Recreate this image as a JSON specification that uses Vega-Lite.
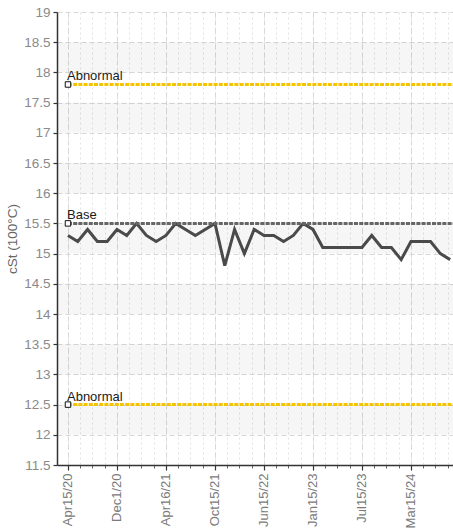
{
  "$schema": "https://vega.github.io/schema/vega-lite/v6.json",
  "width": 396,
  "height": 453,
  "autosize": "none",
  "padding": {"left": 57, "top": 12, "right": 0, "bottom": 63},
  "background": "white",
  "config": {"view": {"stroke": null}, "font": "Liberation Sans"},
  "datasets": {
    "bands": [
      {"lo": 12, "hi": 12.5}, {"lo": 13, "hi": 13.5}, {"lo": 14, "hi": 14.5},
      {"lo": 15, "hi": 15.5}, {"lo": 16, "hi": 16.5}, {"lo": 17, "hi": 17.5},
      {"lo": 18, "hi": 18.5}
    ],
    "series": [
      {"i": 0, "v": 15.3}, {"i": 1, "v": 15.2}, {"i": 2, "v": 15.4}, {"i": 3, "v": 15.2},
      {"i": 4, "v": 15.2}, {"i": 5, "v": 15.4}, {"i": 6, "v": 15.3}, {"i": 7, "v": 15.5},
      {"i": 8, "v": 15.3}, {"i": 9, "v": 15.2}, {"i": 10, "v": 15.3}, {"i": 11, "v": 15.5},
      {"i": 12, "v": 15.4}, {"i": 13, "v": 15.3}, {"i": 14, "v": 15.4}, {"i": 15, "v": 15.5},
      {"i": 16, "v": 14.8}, {"i": 17, "v": 15.4}, {"i": 18, "v": 15.0}, {"i": 19, "v": 15.4},
      {"i": 20, "v": 15.3}, {"i": 21, "v": 15.3}, {"i": 22, "v": 15.2}, {"i": 23, "v": 15.3},
      {"i": 24, "v": 15.5}, {"i": 25, "v": 15.4}, {"i": 26, "v": 15.1}, {"i": 27, "v": 15.1},
      {"i": 28, "v": 15.1}, {"i": 29, "v": 15.1}, {"i": 30, "v": 15.1}, {"i": 31, "v": 15.3},
      {"i": 32, "v": 15.1}, {"i": 33, "v": 15.1}, {"i": 34, "v": 14.9}, {"i": 35, "v": 15.2},
      {"i": 36, "v": 15.2}, {"i": 37, "v": 15.2}, {"i": 38, "v": 15.0}, {"i": 39, "v": 14.9}
    ],
    "refs": [
      {"name": "Abnormal", "value": 17.8, "kind": "limit"},
      {"name": "Base", "value": 15.5, "kind": "base"},
      {"name": "Abnormal", "value": 12.5, "kind": "limit"}
    ]
  },
  "layer": [
    {
      "data": {"name": "bands"},
      "mark": {"type": "rect", "color": "#000000", "opacity": 0.035},
      "encoding": {
        "x": {
          "datum": -1.12, "type": "quantitative",
          "scale": {"domain": [-1.12, 39.29], "nice": false, "zero": false},
          "axis": {
            "orient": "bottom",
            "values": [0,1.25,2.5,3.75,5,6.25,7.5,8.75,10,11.25,12.5,13.75,15,16.25,17.5,18.75,20,21.25,22.5,23.75,25,26.25,27.5,28.75,30,31.25,32.5,33.75,35,36.25,37.5,38.75],
            "labels": false, "domain": false, "title": null,
            "grid": true, "gridColor": "#e2e2e2", "gridDash": [2, 3], "gridWidth": 1,
            "ticks": true, "tickSize": 3, "tickColor": "#666666", "tickWidth": 1
          }
        },
        "x2": {"datum": 39.29},
        "y": {
          "field": "lo", "type": "quantitative",
          "scale": {"domain": [11.5, 19], "nice": false, "zero": false},
          "axis": {
            "orient": "left",
            "values": [11.5,12,12.5,13,13.5,14,14.5,15,15.5,16,16.5,17,17.5,18,18.5,19],
            "format": "~g",
            "title": "cSt (100°C)",
            "titleFont": "Liberation Sans", "titleFontSize": 13.5, "titleFontWeight": "normal",
            "titleColor": "#666666", "titlePadding": 4,
            "labelFont": "Liberation Sans", "labelFontSize": 13.5, "labelColor": "#8a8a8a",
            "labelPadding": 3,
            "domain": true, "domainColor": "#333333", "domainWidth": 1.5,
            "ticks": true, "tickSize": 4, "tickColor": "#333333", "tickWidth": 1.2,
            "grid": true, "gridColor": "#d8d8d8", "gridDash": [5, 3], "gridWidth": 1
          }
        },
        "y2": {"field": "hi"}
      }
    },
    {
      "data": {"name": "series"},
      "mark": {"type": "line", "color": "#4a4a4a", "strokeWidth": 3, "strokeJoin": "miter"},
      "encoding": {
        "x": {
          "field": "i", "type": "quantitative",
          "axis": {
            "orient": "bottom",
            "values": [0, 5, 10, 15, 20, 25, 30, 35],
            "labelExpr": "['Apr15/20','Dec1/20','Apr16/21','Oct15/21','Jun15/22','Jan15/23','Jul15/23','Mar15/24'][round(datum.value/5)]",
            "labelAngle": -90, "labelFont": "Liberation Sans", "labelFontSize": 13,
            "labelColor": "#7a7a7a", "labelPadding": 3, "title": null,
            "domain": true, "domainColor": "#333333", "domainWidth": 1.5,
            "ticks": true, "tickSize": 5, "tickColor": "#333333", "tickWidth": 1.2,
            "grid": true, "gridColor": "#d8d8d8", "gridDash": [5, 3], "gridWidth": 1
          }
        },
        "y": {"field": "v", "type": "quantitative", "axis": null}
      }
    },
    {
      "data": {"name": "refs"},
      "mark": {"type": "rule", "strokeWidth": 3, "strokeDash": [4, 1.2]},
      "encoding": {
        "x": {"datum": 0, "type": "quantitative", "axis": null},
        "x2": {"datum": 39.29},
        "y": {"field": "value", "type": "quantitative", "axis": null},
        "color": {"field": "kind", "type": "nominal", "scale": {"domain": ["limit", "base"], "range": ["#f5c400", "#666666"]}, "legend": null}
      }
    },
    {
      "data": {"name": "refs"},
      "mark": {"type": "square", "size": 30, "fill": "white", "stroke": "#111111", "strokeWidth": 1, "opacity": 1},
      "encoding": {
        "x": {"datum": 0, "type": "quantitative", "axis": null},
        "y": {"field": "value", "type": "quantitative", "axis": null}
      }
    },
    {
      "data": {"name": "refs"},
      "mark": {"type": "text", "align": "left", "baseline": "alphabetic", "dy": -4, "dx": -1, "fontSize": 13, "color": "#1a1a1a", "font": "Liberation Sans"},
      "encoding": {
        "x": {"datum": 0, "type": "quantitative", "axis": null},
        "y": {"field": "value", "type": "quantitative", "axis": null},
        "text": {"field": "name"}
      }
    }
  ],
  "resolve": {"axis": {"x": "independent", "y": "independent"}}
}
